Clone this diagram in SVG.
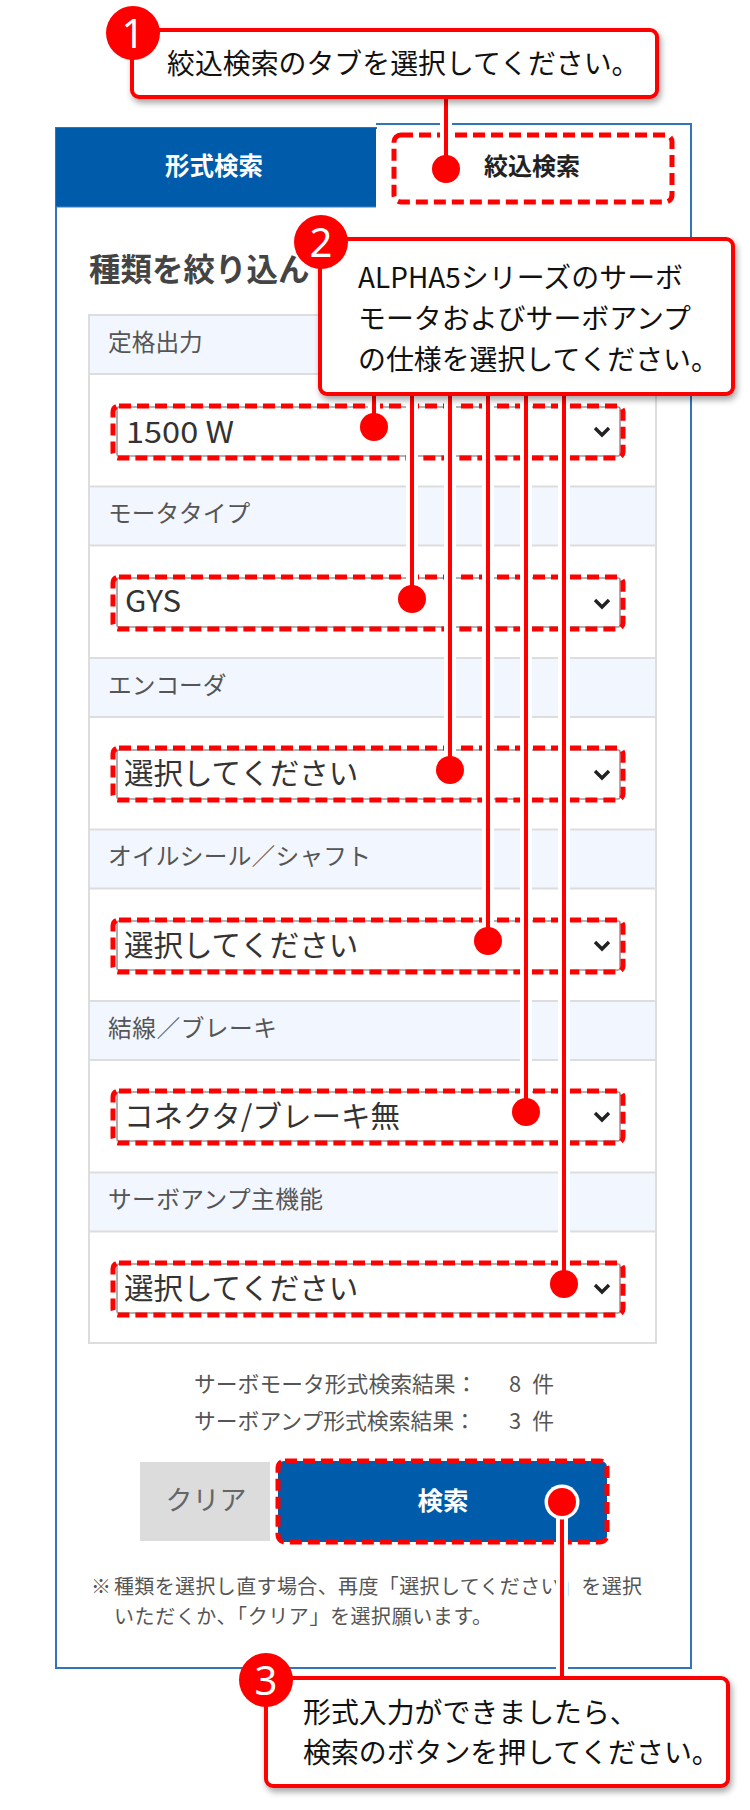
<svg xmlns="http://www.w3.org/2000/svg" width="750" height="1810" viewBox="0 0 750 1810">
<style>
text{font-family:"Noto Sans CJK JP","Noto Sans",sans-serif}
.hd{fill:#f2f6fe;stroke:#ddd;stroke-width:2}
.lb{font-size:23.7px;fill:#555}
.sel{fill:#fff;stroke:#999;stroke-width:1.6}
.dash{fill:none;stroke:#f00;stroke-width:5;stroke-dasharray:12 6}
.val{font-size:29.5px;fill:#333}
.chev{fill:none;stroke:#222;stroke-width:3.4}
.halo{stroke:#fff;stroke-width:12;fill:none}
.wire{stroke:#f00;stroke-width:4;fill:none}
.dot{fill:#f00}
.box{fill:#fff;stroke:#f00;stroke-width:4;filter:url(#sh)}
.ct{font-size:27.9px;fill:#111}
.num{font-family:"Noto Sans","Noto Sans CJK JP",sans-serif;font-size:40px;fill:#fff;text-anchor:middle}
.info{font-size:21.8px;fill:#555}
.note{font-size:20px;fill:#555}
</style>
<defs><filter id="sh" x="-5%" y="-10%" width="112%" height="130%"><feDropShadow dx="2" dy="4" stdDeviation="3" flood-color="#000" flood-opacity=".35"/></filter></defs>
<rect width="750" height="1810" fill="#fff"/>
<g id="panel">
<rect x="56" y="128" width="635" height="1540" fill="#fff" stroke="#2f75b8" stroke-width="2"/>
<path d="M376 124H691V128" fill="none" stroke="#2f75b8" stroke-width="2"/>
<rect x="377" y="126" width="313" height="4" fill="#fff"/>
<rect x="56" y="128" width="320" height="79" fill="#005bab"/>
<path d="M376 207H56" stroke="#3b82c4" stroke-width="1"/>
<text x="214" y="175" font-size="24.500" font-weight="700" fill="#fff" text-anchor="middle">形式検索</text>
</g>
<g id="tab-narrow">
<rect x="394" y="135" width="278" height="67" rx="7" class="dash"/>
<text x="532" y="175" font-size="24" font-weight="700" fill="#222" text-anchor="middle">絞込検索</text>
</g>
<text x="89" y="281" font-size="31.500" font-weight="700" fill="#444">種類を絞り込ん</text>
<rect x="89" y="315" width="567" height="1028" fill="#fff" stroke="#ddd" stroke-width="2"/>
<g id="row1"><rect x="89" y="315" width="567" height="59" class="hd"/><text x="108" y="351" class="lb">定格出力</text>
<rect x="117" y="407" width="503" height="49" rx="2" class="sel"/><rect x="113" y="406" width="510" height="52" rx="6" class="dash"/><text x="126" y="443" class="val" textLength="108" lengthAdjust="spacingAndGlyphs">1500 W</text><path d="M595 428l7 7 7-7" class="chev"/></g>
<g id="row2"><rect x="89" y="486.500" width="567" height="59" class="hd"/><text x="108" y="522" class="lb">モータタイプ</text>
<rect x="117" y="578" width="503" height="49" rx="2" class="sel"/><rect x="113" y="577" width="510" height="52" rx="6" class="dash"/><text x="125" y="612" class="val" textLength="56" lengthAdjust="spacingAndGlyphs">GYS</text><path d="M595 600l7 7 7-7" class="chev"/></g>
<g id="row3"><rect x="89" y="658" width="567" height="59" class="hd"/><text x="108" y="694" class="lb">エンコーダ</text>
<rect x="117" y="750" width="503" height="49" rx="2" class="sel"/><rect x="113" y="748" width="510" height="52" rx="6" class="dash"/><text x="124" y="784" class="val">選択してください</text><path d="M595 771l7 7 7-7" class="chev"/></g>
<g id="row4"><rect x="89" y="829.500" width="567" height="59" class="hd"/><text x="108" y="865" class="lb" textLength="263">オイルシール／シャフト</text>
<rect x="117" y="921" width="503" height="49" rx="2" class="sel"/><rect x="113" y="920" width="510" height="52" rx="6" class="dash"/><text x="124" y="956" class="val">選択してください</text><path d="M595 942l7 7 7-7" class="chev"/></g>
<g id="row5"><rect x="89" y="1001" width="567" height="59" class="hd"/><text x="108" y="1037" class="lb" textLength="169">結線／ブレーキ</text>
<rect x="117" y="1092" width="503" height="49" rx="2" class="sel"/><rect x="113" y="1091" width="510" height="52" rx="6" class="dash"/><text x="124" y="1127" class="val">コネクタ/ブレーキ無</text><path d="M595 1113l7 7 7-7" class="chev"/></g>
<g id="row6"><rect x="89" y="1172.500" width="567" height="59" class="hd"/><text x="108" y="1208" class="lb" textLength="215">サーボアンプ主機能</text>
<rect x="117" y="1264" width="503" height="49" rx="2" class="sel"/><rect x="113" y="1263" width="510" height="52" rx="6" class="dash"/><text x="124" y="1299" class="val">選択してください</text><path d="M595 1285l7 7 7-7" class="chev"/></g>
<g id="results">
<text x="194" y="1392" class="info">サーボモータ形式検索結果：</text><text x="509" y="1392" class="info" textLength="45">8 件</text>
<text x="194" y="1429" class="info">サーボアンプ形式検索結果：</text><text x="509" y="1429" class="info" textLength="45">3 件</text>
</g>
<g id="btn-clear"><rect x="140" y="1462" width="130" height="79" fill="#dcdcdc"/><text x="206" y="1510" font-size="27" fill="#666" text-anchor="middle">クリア</text></g>
<g id="btn-search"><rect x="278" y="1461" width="329" height="81" rx="6" fill="#005bab"/><rect x="278" y="1461" width="329" height="81" rx="7" class="dash"/><text x="443" y="1510" font-size="25.500" font-weight="700" fill="#fff" text-anchor="middle">検索</text></g>
<g id="note">
<text x="91" y="1594" class="note">※</text>
<text x="114" y="1594" class="note" textLength="528">種類を選択し直す場合、再度「選択してください」を選択</text>
<text x="114" y="1624" class="note" textLength="378">いただくか、「クリア」を選択願います。</text>
</g>
<g id="connectors">
<path class="halo" d="M446 97V169M374 394V427M412 394V599M450 394V770M488 394V941M526 394V1112M564 394V1284M562 1505V1678"/>
<path class="wire" d="M446 97V169M374 394V427M412 394V599M450 394V770M488 394V941M526 394V1112M564 394V1284M562 1502V1678"/>
<circle class="dot" cx="446" cy="169" r="14"/>
<circle class="dot" cx="374" cy="427" r="14"/>
<circle class="dot" cx="412" cy="599" r="14"/>
<circle class="dot" cx="450" cy="770" r="14"/>
<circle class="dot" cx="488" cy="941" r="14"/>
<circle class="dot" cx="526" cy="1112" r="14"/>
<circle class="dot" cx="564" cy="1284" r="14"/>
<circle cx="562" cy="1502" r="17.500" fill="#fff"/>
<circle class="dot" cx="562" cy="1502" r="14"/>
</g>
<g id="callout1">
<rect x="132" y="30" width="525" height="67" rx="7" class="box"/>
<circle cx="133" cy="33" r="27" fill="#f00"/><text x="133" y="48" class="num">1</text>
<text x="167" y="74" class="ct">絞込検索のタブを選択してください。</text>
</g>
<g id="callout2">
<rect x="320" y="239" width="413" height="155" rx="7" class="box"/>
<circle cx="321" cy="242" r="27" fill="#f00"/><text x="321" y="257" class="num">2</text>
<text x="358" y="288" class="ct" textLength="325">ALPHA5シリーズのサーボ</text>
<text x="358" y="329" class="ct" textLength="333">モータおよびサーボアンプ</text>
<text x="358" y="370" class="ct">の仕様を選択してください。</text>
</g>
<g id="callout3">
<rect x="266" y="1678" width="462" height="108" rx="7" class="box"/>
<circle cx="266" cy="1680" r="27" fill="#f00"/><text x="266" y="1695" class="num">3</text>
<text x="303" y="1723" class="ct">形式入力ができましたら、</text>
<text x="303" y="1763" class="ct">検索のボタンを押してください。</text>
</g>
</svg>
